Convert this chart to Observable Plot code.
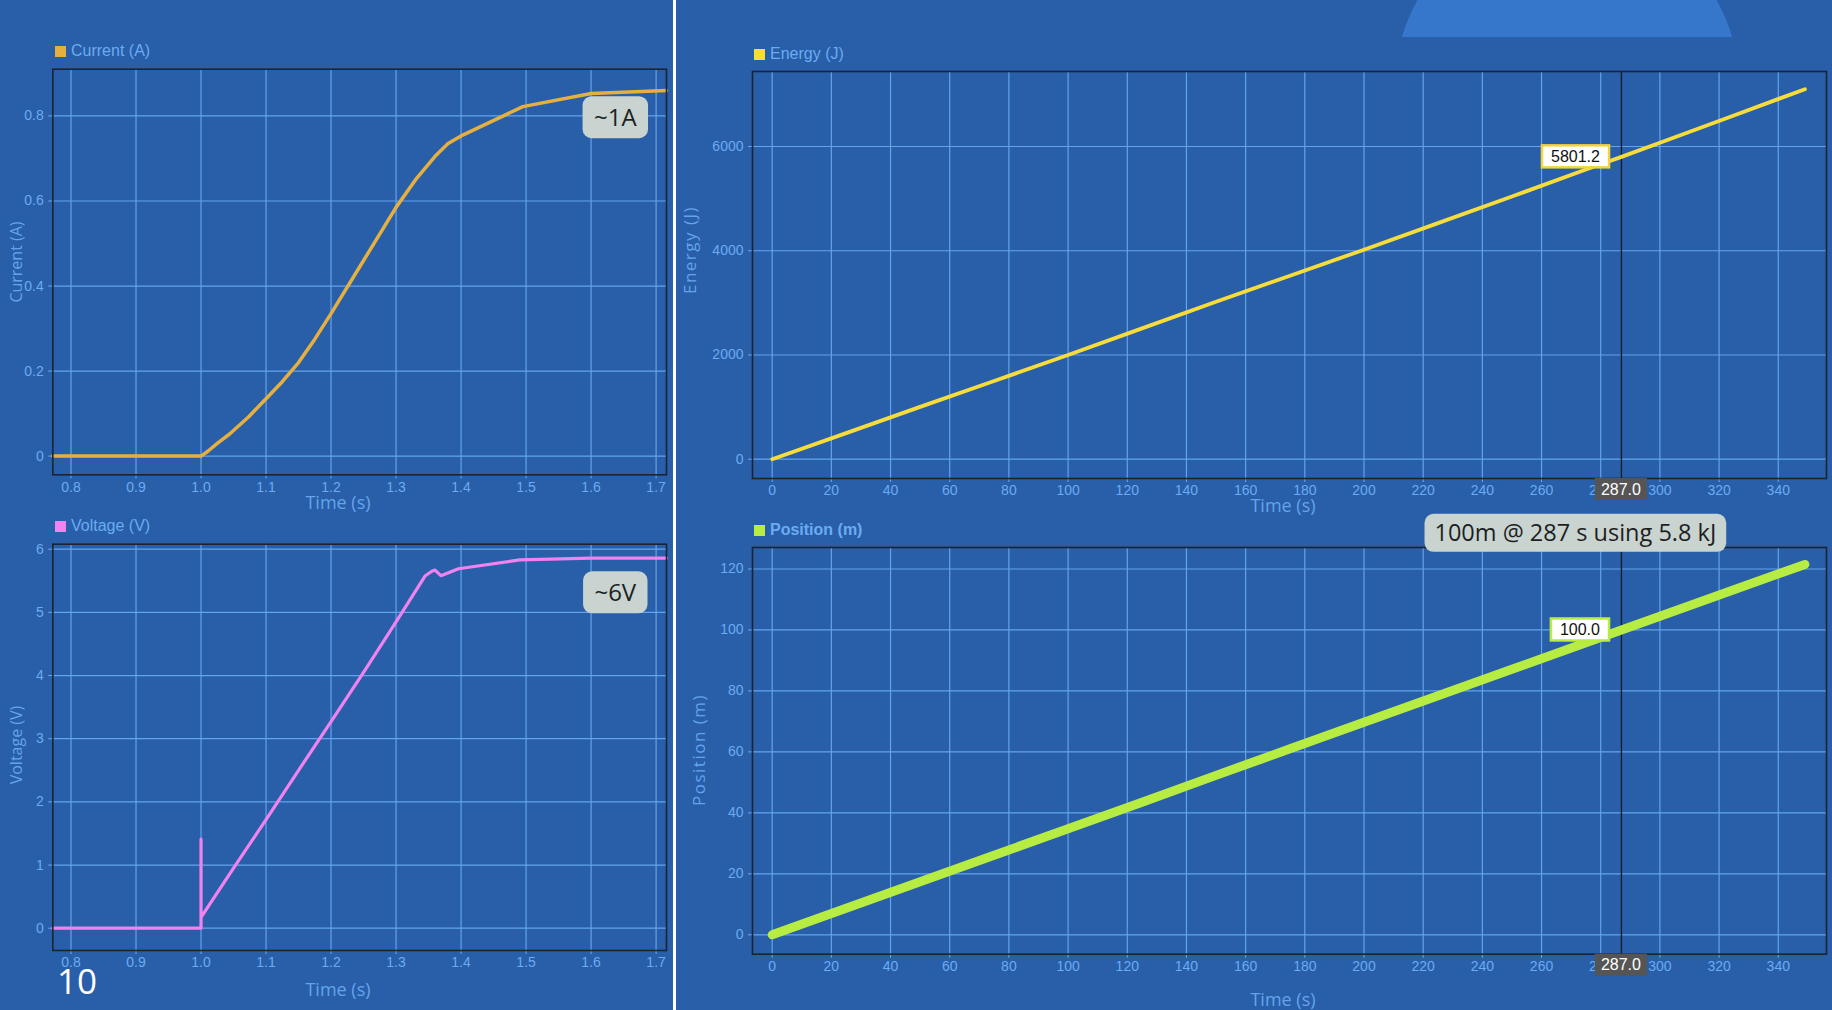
<!DOCTYPE html>
<html>
<head>
<meta charset="utf-8">
<script src="https://cdn.jsdelivr.net/npm/d3@7"></script>
<script src="https://cdn.jsdelivr.net/npm/@observablehq/plot@0.6"></script>
<style>
  html, body { margin: 0; padding: 0; }
  body {
    width: 1832px; height: 1010px; position: relative; overflow: hidden;
    background: #295ea8; font-family: "Liberation Sans", Arial, sans-serif;
  }
  .legend { position: absolute; display: flex; align-items: center; gap: 5px; height: 20px; color: #6aacf2; font-size: 16px; }
  .legend i { display: inline-block; width: 11px; height: 11px; }
  .divider { position: absolute; left: 673px; top: 0; width: 3px; height: 1010px; background: #fff; }
  .dome-wrap { position: absolute; left: 1380px; top: 0; width: 380px; height: 37px; overflow: hidden; }
  .dome { position: absolute; left: 15px; top: -87px; width: 344px; height: 344px; border-radius: 50%; background: #3676cb; }
  .page { position: absolute; left: 57px; top: 961px; font: 35px/40px "Open Sans", sans-serif; color: #fff; }
</style>
</head>
<body>
<div class="dome-wrap"><div class="dome"></div></div>
<div class="divider"></div>
<div class="page">10</div>
<script>
// --- data ---
const currentT = [0.772, 0.9, 1.0, 1.011, 1.025, 1.044, 1.073, 1.1, 1.125, 1.15, 1.175, 1.2, 1.25, 1.3, 1.33, 1.36, 1.38, 1.4, 1.495, 1.6, 1.716];
const currentA = [0, 0, 0, 0.012, 0.03, 0.052, 0.092, 0.135, 0.175, 0.22, 0.275, 0.335, 0.46, 0.585, 0.65, 0.705, 0.735, 0.753, 0.822, 0.853, 0.86];

const voltageT = [0.772, 1.0, 1.0, 1.0, 1.05, 1.1, 1.15, 1.2, 1.25, 1.3, 1.345, 1.355, 1.36, 1.369, 1.396, 1.49, 1.6, 1.716];
const voltageV = [0, 0, 1.41, 0.17, 0.95, 1.72, 2.5, 3.27, 4.05, 4.85, 5.58, 5.65, 5.67, 5.58, 5.69, 5.83, 5.86, 5.86];

const energyT = [0, 25, 50, 75, 100, 125, 150, 175, 200, 225, 250, 275, 287, 300, 325, 349];
const energyJ = [0, 500, 1005, 1500, 2000, 2510, 3020, 3520, 4020, 4530, 5040, 5560, 5801.2, 6072, 6595, 7100];

const positionT = [0, 25, 50, 75, 100, 125, 150, 175, 200, 225, 250, 275, 287, 300, 325, 349];
const positionM = [0, 8.7, 17.4, 26.1, 34.8, 43.5, 52.3, 61, 69.7, 78.4, 87.1, 95.8, 100.0, 104.5, 113.2, 121.5];

const timeTicksLeft = [0.8, 0.9, 1.0, 1.1, 1.2, 1.3, 1.4, 1.5, 1.6, 1.7];
const currentTicks = [0, 0.2, 0.4, 0.6, 0.8];
const voltageTicks = [0, 1, 2, 3, 4, 5, 6];
const timeTicksRight = [0, 20, 40, 60, 80, 100, 120, 140, 160, 180, 200, 220, 240, 260, 280, 300, 320, 340];
const energyTicks = [0, 2000, 4000, 6000];
const positionTicks = [0, 20, 40, 60, 80, 100, 120];

const cursorT = 287.0;
const cursorEnergy = 5801.2;
const cursorPosition = 100.0;

const currentNote = "~1A";
const voltageNote = "~6V";
const runNote = "100m @ 287 s using 5.8 kJ";

// --- styling ---
const GRID = "#62a4ee", INK = "#6aacf2", TITLE = "#64a4ec", FRAME = "#1c2433";

function legend(left, top, color, text, bold) {
  const d = document.createElement("div");
  d.className = "legend";
  d.style.left = left + "px";
  d.style.top = top + "px";
  if (bold) d.style.fontWeight = "bold";
  d.innerHTML = `<i style="background:${color}"></i><span>${text}</span>`;
  document.body.append(d);
}

function panel(o) {
  const chart = Plot.plot({
    width: o.width, height: o.height,
    marginLeft: o.ml, marginRight: o.mr, marginTop: o.mt, marginBottom: o.mb,
    style: {background: "transparent", color: INK, fontFamily: "Liberation Sans, Arial, sans-serif", fontSize: "14px", overflow: "visible"},
    x: {domain: o.xDomain, ticks: o.xTicks, tickFormat: o.xFormat, tickSize: 4, tickPadding: 3, label: null},
    y: {domain: o.yDomain, ticks: o.yTicks, tickFormat: o.yFormat, tickSize: 4, tickPadding: 5, label: null},
    marks: [
      Plot.ruleX(o.xTicks, {stroke: GRID, strokeWidth: 1.2}),
      Plot.ruleY(o.yTicks, {stroke: GRID, strokeWidth: 1.2}),
      ...o.marks,
      Plot.frame({stroke: FRAME, strokeWidth: 1.6})
    ]
  });
  chart.style.position = "absolute";
  chart.style.left = o.left + "px";
  chart.style.top = o.top + "px";
  document.body.append(chart);

  const svg = d3.select(chart);
  svg.append("text")
    .attr("transform", `translate(${o.yTitle[0]},${o.yTitle[1]}) rotate(-90)`)
    .attr("text-anchor", "middle").attr("dy", "0.35em")
    .attr("font-family", "Open Sans").attr("font-size", o.yTitleSize || 16)
    .attr("letter-spacing", o.yTitleSpacing || 0).attr("fill", TITLE)
    .text(o.yLabel);
  svg.append("text")
    .attr("x", o.xTitle[0]).attr("y", o.xTitle[1])
    .attr("text-anchor", "middle").attr("dy", "0.35em")
    .attr("font-family", "Open Sans").attr("font-size", 18).attr("fill", TITLE)
    .text("Time (s)");
  return chart;
}

// rounded grey note placed through the chart's scales
function note(chart, t, v, text, size, padX, h) {
  const sx = chart.scale("x").apply(t), sy = chart.scale("y").apply(v);
  const g = d3.select(chart).append("g");
  const txt = g.append("text")
    .attr("x", sx).attr("y", sy).attr("text-anchor", "middle").attr("dy", "0.36em")
    .attr("font-family", "Open Sans").attr("font-size", size).attr("fill", "#1d1f1f")
    .text(text);
  const b = txt.node().getBBox();
  g.insert("rect", "text")
    .attr("x", sx - b.width / 2 - padX).attr("y", sy - h / 2)
    .attr("width", b.width + 2 * padX).attr("height", h)
    .attr("rx", 9).attr("fill", "#c9d3cf");
}

// value tag left of the cursor point
function valueTag(chart, t, v, text, border) {
  const sx = chart.scale("x").apply(t), sy = chart.scale("y").apply(v);
  const g = d3.select(chart).append("g");
  const txt = g.append("text")
    .attr("x", sx - 21).attr("y", sy).attr("text-anchor", "end").attr("dy", "0.36em")
    .attr("font-family", "Liberation Sans, Arial").attr("font-size", 16).attr("fill", "#111")
    .text(text);
  const b = txt.node().getBBox();
  g.insert("rect", "text")
    .attr("x", b.x - 9).attr("y", sy - 11)
    .attr("width", b.width + 18).attr("height", 22)
    .attr("fill", "#fff").attr("stroke", border).attr("stroke-width", 2.5);
}

// dark time tag under the frame
function timeTag(chart, t, text, frameBottom) {
  const sx = chart.scale("x").apply(t);
  const g = d3.select(chart).append("g");
  const txt = g.append("text")
    .attr("x", sx).attr("y", frameBottom + 11).attr("text-anchor", "middle").attr("dy", "0.36em")
    .attr("font-family", "Liberation Sans, Arial").attr("font-size", 16).attr("fill", "#fff")
    .text(text);
  const b = txt.node().getBBox();
  g.insert("rect", "text")
    .attr("x", sx - b.width / 2 - 6).attr("y", frameBottom)
    .attr("width", b.width + 12).attr("height", 22)
    .attr("fill", "#555555");
}

const f1 = d3.format(".1f");
const fd = d3.format("d");

// Current
const currentChart = panel({
  left: 0, top: 60, width: 672, height: 455, ml: 52.3, mr: 6, mt: 8.7, mb: 40.7,
  xDomain: [0.772, 1.716], yDomain: [-0.044, 0.91],
  xTicks: timeTicksLeft, yTicks: currentTicks, xFormat: f1, yFormat: d => d === 0 ? "0" : String(d),
  yLabel: "Current (A)", yTitle: [16, 202], xTitle: [338, 443],
  marks: [Plot.line(currentA, {x: currentT, y: currentA, stroke: "#e5b03f", strokeWidth: 3.5, strokeLinejoin: "round"})]
});
note(currentChart, 1.638, 0.796, currentNote, 24, 11, 42);

// Voltage
const voltageChart = panel({
  left: 0, top: 535, width: 672, height: 475, ml: 52.3, mr: 6, mt: 8.7, mb: 60,
  xDomain: [0.772, 1.716], yDomain: [-0.353, 6.079],
  xTicks: timeTicksLeft, yTicks: voltageTicks, xFormat: f1, yFormat: fd,
  yLabel: "Voltage (V)", yTitle: [16, 210], xTitle: [338, 455],
  marks: [Plot.line(voltageV, {x: voltageT, y: voltageV, stroke: "#f083ef", strokeWidth: 3.2})]
});
note(voltageChart, 1.638, 5.31, voltageNote, 24, 11, 42);

// Energy
const energyChart = panel({
  left: 680, top: 60, width: 1152, height: 455, ml: 72, mr: 6, mt: 11, mb: 37,
  xDomain: [-6.65, 356.3], yDomain: [-370, 7439],
  xTicks: timeTicksRight, yTicks: energyTicks, xFormat: fd, yFormat: fd,
  yLabel: "Energy (J)", yTitle: [10, 190], yTitleSize: 17, yTitleSpacing: 1.5, xTitle: [603, 446],
  marks: [
    Plot.ruleX([cursorT], {stroke: "#161a20", strokeWidth: 1.3}),
    Plot.line(energyJ, {x: energyT, y: energyJ, stroke: "#f7dc3a", strokeWidth: 3.8, strokeLinecap: "round"})
  ]
});
valueTag(energyChart, cursorT, cursorEnergy, f1(cursorEnergy), "#f2d53c");
timeTag(energyChart, cursorT, f1(cursorT), 418);

// Position
const positionChart = panel({
  left: 680, top: 505, width: 1152, height: 505, ml: 72, mr: 6, mt: 42, mb: 56.3,
  xDomain: [-6.65, 356.3], yDomain: [-6.36, 127.05],
  xTicks: timeTicksRight, yTicks: positionTicks, xFormat: fd, yFormat: fd,
  yLabel: "Position (m)", yTitle: [19, 245], yTitleSize: 17, yTitleSpacing: 1.5, xTitle: [603, 495],
  marks: [
    Plot.ruleX([cursorT], {stroke: "#161a20", strokeWidth: 1.3}),
    Plot.line(positionM, {x: positionT, y: positionM, stroke: "#b7ec43", strokeWidth: 9, strokeLinecap: "round"})
  ]
});
valueTag(positionChart, cursorT, cursorPosition, f1(cursorPosition), "#b7ec43");
timeTag(positionChart, cursorT, f1(cursorT), 448.7);
note(positionChart, 271.6, 131.7, runNote, 23.5, 10, 38);

legend(55, 41, "#e5b03f", "Current (A)");
legend(55, 516, "#f083ef", "Voltage (V)");
legend(754, 44, "#f7dc3a", "Energy (J)");
legend(754, 520, "#b7ec43", "Position (m)", true);
</script>
</body>
</html>
